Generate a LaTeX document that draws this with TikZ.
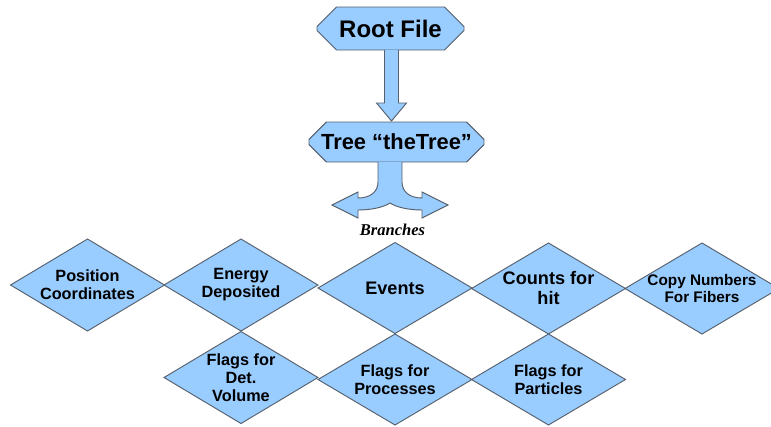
\documentclass[tikz,border=0pt]{standalone}
\usepackage{fontspec}
\setmainfont{Liberation Sans}
\newfontfamily\branchfont{Liberation Serif}
\usetikzlibrary{shapes.geometric,shapes.misc,calc}
\definecolor{boxfill}{HTML}{99CCFF}
\definecolor{boxline}{HTML}{55606C}

\begin{document}
\begin{tikzpicture}[x=0.75pt,y=-0.75pt,
  shapebase/.style={fill=boxfill,draw=boxline,line width=0.7pt,line join=miter},
  dia/.style={shapebase,diamond,inner sep=0pt,outer sep=0pt,
    minimum width=115.5pt,minimum height=69pt},
  diaB/.style={dia,minimum height=68.25pt},
  dialbl/.style={align=center,inner sep=0pt,
    font=\bfseries\fontsize{12.2}{13.5}\selectfont},
  dialblbig/.style={align=center,inner sep=0pt,
    font=\bfseries\fontsize{13.6}{15}\selectfont},
  dialblsmall/.style={align=center,inner sep=0pt,
    font=\bfseries\fontsize{11.5}{12.75}\selectfont},
  titlebox/.style={shapebase,chamfered rectangle,inner sep=0pt,outer sep=0pt,
    chamfered rectangle xsep=7.5pt,chamfered rectangle ysep=8pt}
]
\path[use as bounding box] (0,0) rectangle (771,426);
\clip (0,0) rectangle (771,426);

% file and tree boxes
\node[titlebox,minimum width=110.25pt,minimum height=32.25pt,
  font=\bfseries\fontsize{18}{20}\selectfont] (root) at (390.5,28.5) {Root File};
\node[titlebox,minimum width=131.25pt,minimum height=30pt,
  chamfered rectangle ysep=7pt,
  font=\bfseries\fontsize{16.4}{18}\selectfont] (tree) at (396.5,142) {Tree “theTree”};

% block arrow from the file to the tree
\coordinate (dtip) at (391.5,121);
\draw[shapebase] ($(root.south)+(-6,0)$) -- (384.5,103) -- (376.5,103) -- (dtip)
  -- (406.5,103) -- (398.5,103) -- ($(root.south)+(8,0)$);

% splitting arrow towards the branches
\coordinate (bsplit) at (390,162);
\begin{scope}[shift={(bsplit)}]
\draw[shapebase] (-12,0) -- (-12,20) .. controls (-12,30) and (-20,36) .. (-32,36)
  -- (-32,30) -- (-58,43) -- (-32,56) -- (-32,48)
  .. controls (-18,48) and (-6,45) .. (0,41)
  .. controls (6,45) and (18,48) .. (32,48)
  -- (32,56) -- (58,43) -- (32,30) -- (32,36)
  .. controls (20,36) and (12,30) .. (12,20) -- (12,0);
\end{scope}
\node[font=\branchfont\bfseries\itshape\fontsize{12.4}{14}\selectfont,inner sep=0pt]
  (branches) at (392.5,229.5) {Branches};

% branch diamonds, upper row
\node[dia,label={[dialbl]center:{Position\\Coordinates}}] (pos) at (87.5,285) {};
\node[dia,label={[dialbl]center:{Energy\\Deposited}}] (energy) at (241,285) {};
\node[diaB,label={[dialblbig]center:{Events}}] (events) at (395,288) {};
\node[diaB,label={[dialblbig]center:{Counts for\\hit}}] (counts) at (548.5,288.5) {};
\node[diaB,label={[dialblsmall]center:{Copy Numbers\\For Fibers}}] (copy) at (702,288.5) {};

% branch diamonds, lower row
\node[dia,label={[dialbl]center:{Flags for\\Det.\\Volume}}] (flagdet) at (241,377.5) {};
\node[diaB,label={[dialbl]center:{Flags for\\Processes}}] (flagproc) at (395,379.5) {};
\node[diaB,label={[dialbl]center:{Flags for\\Particles}}] (flagpart) at (548.5,379.5) {};
\end{tikzpicture}
\end{document}
